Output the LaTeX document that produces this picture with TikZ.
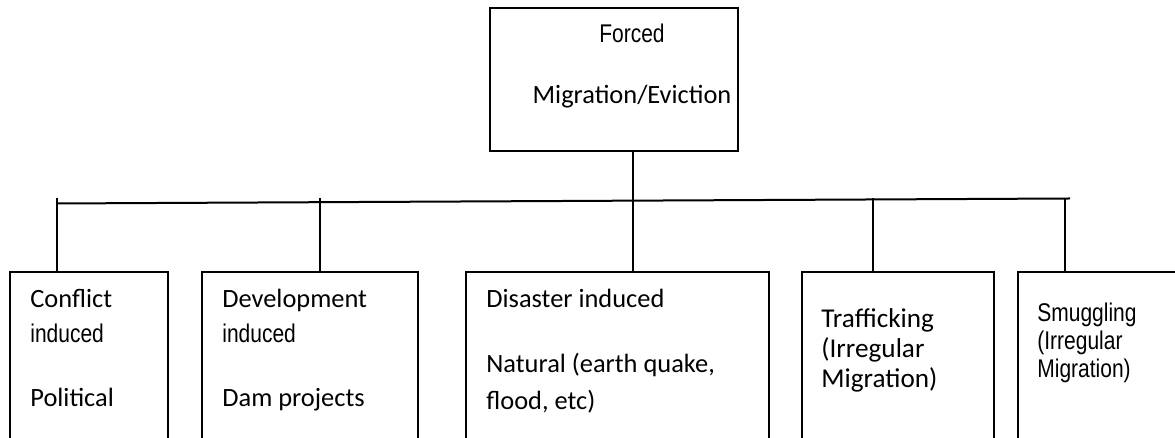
\documentclass[tikz,border=0pt]{standalone}
\usepackage{fontspec}
\setmainfont{Carlito}
\newfontfamily\narrowfont{Liberation Sans}[FakeStretch=0.82]
\usetikzlibrary{positioning,calc}

\tikzset{
  link/.style={line width=1pt},
  catbox/.style={draw,line width=1pt,anchor=north west,inner sep=0pt,minimum height=110pt},
  lbl/.style={anchor=base west,inner sep=0pt,font=\fontsize{13.2}{15}\selectfont},
  nlbl/.style={anchor=base west,inner sep=0pt,font=\narrowfont\fontsize{12.8}{15}\selectfont},
}

\begin{document}
\begin{tikzpicture}[x=0.5pt,y=0.5pt]
  \useasboundingbox (0,0) rectangle (1175,438);
  \clip (0,0) rectangle (1175,438);

  % top box
  \node[draw,line width=1pt,anchor=north west,minimum width=124pt,minimum height=71.5pt] (forced) at (489,431) {};
  \node[nlbl,anchor=base] (forcedA) at (632,395) {Forced};
  \node[lbl,anchor=base] (forcedB) at (632,334) {Migration/Eviction};

  % category boxes
  \foreach \name/\x/\w in {conflict/9/158, develop/201/216, disaster/465/303, traffic/801/192, smuggle/1017/190}
    \node[catbox,minimum width=\w*0.5pt] (\name) at (\x,167) {};

  % texts
  \node[lbl]  (conflictA) at (30,130) {Conflict};
  \node[nlbl] (conflictB) at (30,95)  {induced};
  \node[lbl]  (conflictC) at (30,31)  {Political};

  \node[lbl]  (developA) at (222,130) {Development};
  \node[nlbl] (developB) at (222,95)  {induced};
  \node[lbl]  (developC) at (222,31)  {Dam projects};

  \node[lbl] (disasterA) at (486,130) {Disaster induced};
  \node[lbl] (disasterB) at (486,65)  {Natural (earth quake,};
  \node[lbl] (disasterC) at (486,28)  {flood, etc)};

  \node[lbl,font=\fontsize{13.6}{15}\selectfont] (trafficA) at (821,110) {Trafficking};
  \node[lbl,font=\fontsize{13.6}{15}\selectfont] (trafficB) at (821,80)  {(Irregular};
  \node[lbl,font=\fontsize{13.6}{15}\selectfont] (trafficC) at (821,50)  {Migration)};

  \node[nlbl] (smuggleA) at (1037,116) {Smuggling};
  \node[nlbl] (smuggleB) at (1037,88)  {(Irregular};
  \node[nlbl] (smuggleC) at (1037,60)  {Migration)};

  % connectors
  \coordinate (barL) at (57,234.5);
  \coordinate (barR) at (1070,239.5);
  \draw[link] (barL) -- (barR);
  \foreach \name/\x in {conflict/57, develop/320, traffic/873, smuggle/1065} {
    \coordinate (t\name) at (\x,240);
    \draw[link] (t\name) -- (t\name |- \name.north);
  }
  \coordinate (tdisaster) at (633,0);
  \draw[link] (tdisaster |- forced.south) -- (tdisaster |- disaster.north);
\end{tikzpicture}
\end{document}
